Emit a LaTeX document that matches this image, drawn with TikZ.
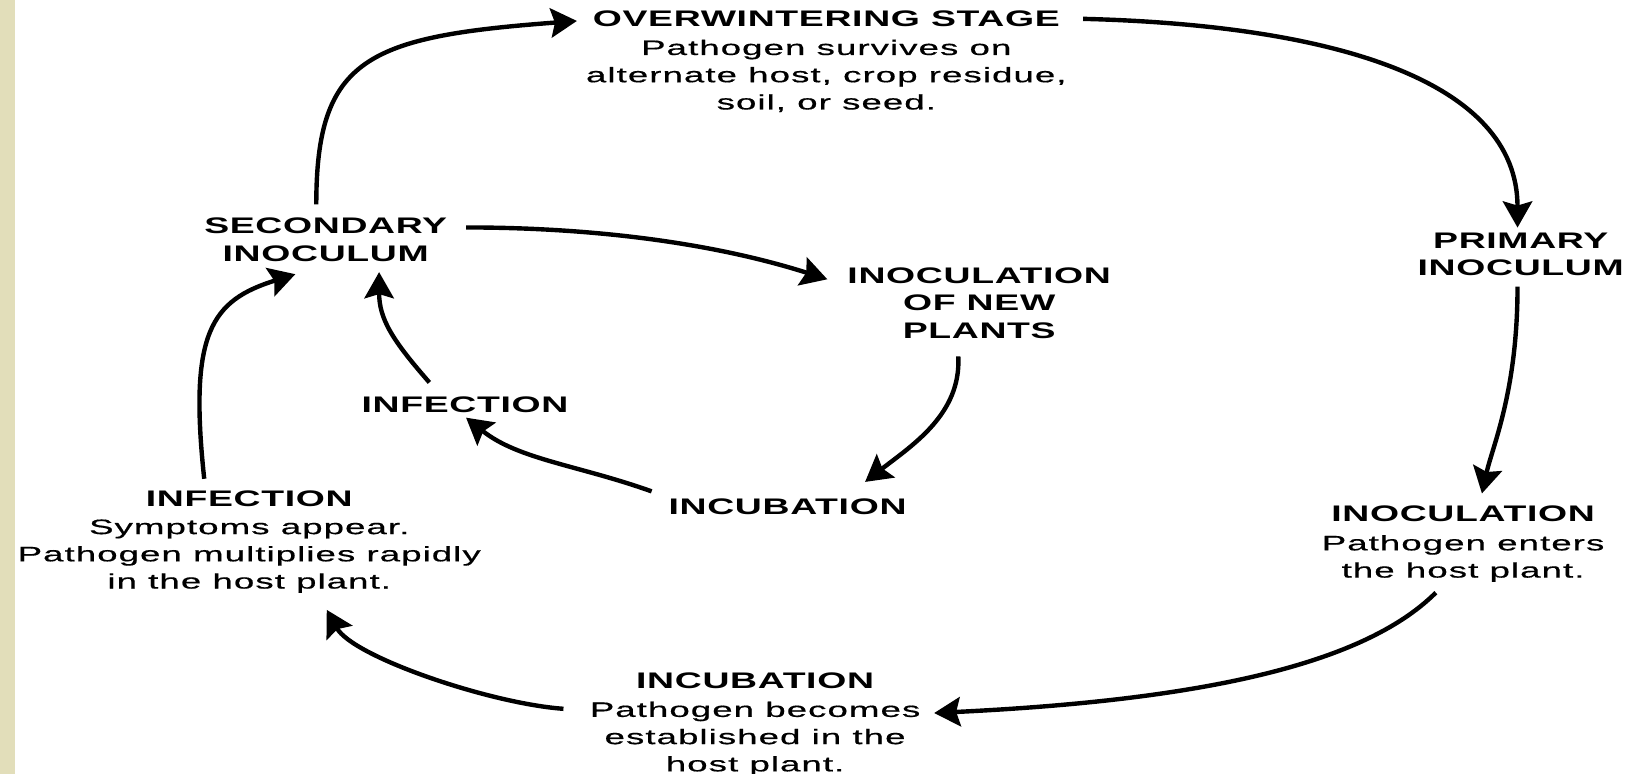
\documentclass[tikz,border=0pt]{standalone}
\usepackage{fontspec}
\setmainfont[FakeStretch=1.75,LetterSpace=5,FakeBold=0.6]{Liberation Sans}
\newfontfamily\stagefont[FakeStretch=1.66,LetterSpace=3]{Liberation Sans}
\usetikzlibrary{arrows.meta,positioning}
\definecolor{parchment}{RGB}{226,222,186}
\tikzset{
    %Define standard arrow tip
    >={Stealth[length=25pt,width=28pt,inset=4pt]},
    %Define style for stage titles
    stage/.style={
           inner sep=0pt,
           align=center,
           font=\stagefont\bfseries\fontsize{21.5}{26}\selectfont},
    %Define style for the notes under a title
    note/.style={
           inner sep=0pt,
           align=center,
           font=\fontsize{20}{26}\selectfont},
    % Define arrow style
    cyclearrow/.style={
           ->,
           line width=4.2pt}
}

\begin{document}
\begin{tikzpicture}[x=1pt, y=1pt]
    \useasboundingbox (0,0) rectangle (1565,739);
    \fill[parchment] (0,0) rectangle (14.3,739);
 %outer cycle
    \node[stage] (ow) at (789,721) {OVERWINTERING STAGE};
    \node[note, below=12pt of ow] (owtxt) {Pathogen survives on\\alternate host, crop residue,\\soil, or seed.};
    \node[stage] (prim) at (1452,496) {PRIMARY\\INOCULUM};
    \node[stage] (inoc) at (1397,248) {INOCULATION};
    \node[note, below=12pt of inoc] (inoctxt) {Pathogen enters\\the host plant.};
    \node[stage] (incb) at (721,89) {INCUBATION};
    \node[note, below=12pt of incb] (incbtxt) {Pathogen becomes\\established in the\\host plant.};
    \node[stage] (infl) at (238,263) {INFECTION};
    \node[note, below=12pt of infl] (infltxt) {Symptoms appear.\\Pathogen multiplies rapidly\\in the host plant.};
    \node[stage] (sec) at (311,510) {SECONDARY\\INOCULUM};
 %inner cycle
    \node[stage] (newp) at (935,449.5) {INOCULATION\\OF NEW\\PLANTS};
    \node[stage] (infi) at (444,353) {INFECTION};
    \node[stage] (inci) at (752,255) {INCUBATION};
 %edges
    \draw[cyclearrow] ([shift={(-9pt,13pt)}]sec.north) .. controls +(0,140) and +(-200,-15) .. ([shift={(-15pt,-2pt)}]ow.west);
    \draw[cyclearrow] ([xshift=22pt]ow.east) .. controls +(240,-6) and +(0,140) .. ([shift={(-3pt,5pt)}]prim.north);
    \draw[cyclearrow] ([shift={(-3pt,-10pt)}]prim.south) .. controls +(0,-100) and +(10,45) .. ([shift={(18pt,12pt)}]inoc.north);
    \draw[cyclearrow] ([shift={(-26pt,-10pt)}]inoctxt.south) .. controls +(-70,-70) and +(250,12) .. ([shift={(13pt,-11pt)}]incbtxt.north east);
    \draw[cyclearrow] ([shift={(-25pt,-7pt)}]incbtxt.north west) .. controls +(-70,5) and +(25,-45) .. ([shift={(74pt,-16pt)}]infltxt.south);
    \draw[cyclearrow] ([shift={(-43pt,11pt)}]infl.north) .. controls +(-15,140) and +(-80,-25) .. ([shift={(-29pt,-12pt)}]sec.south);
    \draw[cyclearrow] ([shift={(-34pt,13pt)}]infi.north) .. controls +(-35,40) and +(0,-45) .. ([shift={(51pt,-10pt)}]sec.south);
    \draw[cyclearrow] ([shift={(18pt,-9pt)}]sec.north east) .. controls +(120,0) and +(-110,35) .. ([shift={(-19pt,-11pt)}]newp.north west);
    \draw[cyclearrow] ([shift={(-20pt,-17pt)}]newp.south) .. controls +(3,-55) and +(45,35) .. ([shift={(74pt,16pt)}]inci.north);
    \draw[cyclearrow] ([shift={(-16pt,7pt)}]inci.north west) .. controls +(-70,25) and +(50,-40) .. ([shift={(1pt,-5pt)}]infi.south);
\end{tikzpicture}
\end{document}
